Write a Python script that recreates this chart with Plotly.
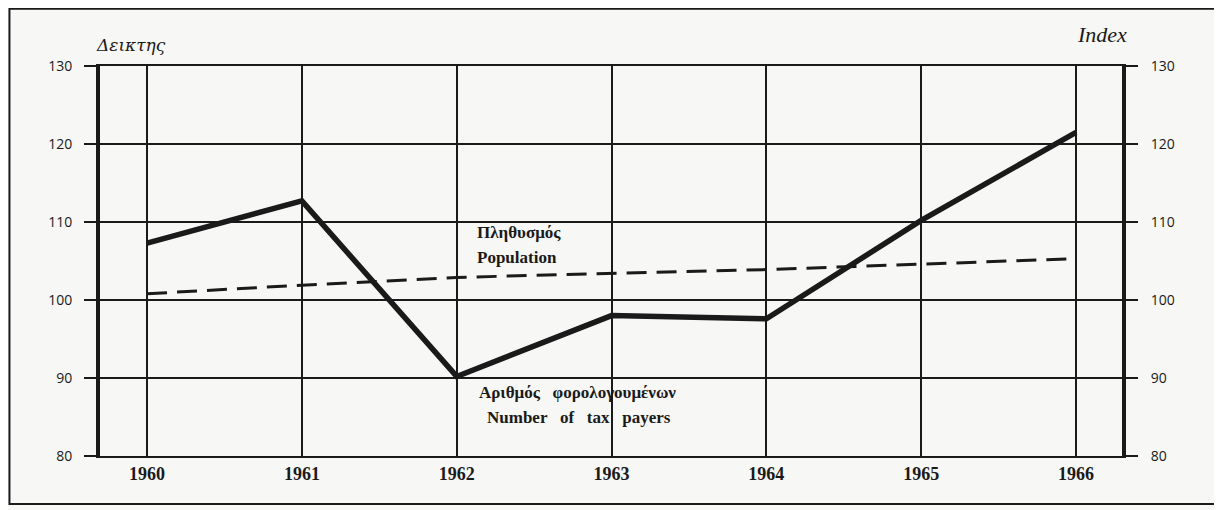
import plotly.graph_objects as go

years = [1960, 1961, 1962, 1963, 1964, 1965, 1966]
tax_payers = [107.3, 112.7, 90.2, 98.0, 97.6, 110.2, 121.5]
population = [100.8, 101.9, 102.9, 103.4, 103.9, 104.6, 105.3]
y_ticks = [80, 90, 100, 110, 120, 130]

ink = "#1a1a1a"
bg = "#f7f7f5"

fig = go.Figure()
fig.add_trace(go.Scatter(x=years, y=population, mode="lines",
                         line=dict(color=ink, width=3, dash="20px,10px"),
                         showlegend=False, hoverinfo="skip"))
fig.add_trace(go.Scatter(x=years, y=tax_payers, mode="lines",
                         line=dict(color=ink, width=5.5),
                         showlegend=False))
# invisible trace to activate right axis
fig.add_trace(go.Scatter(x=years, y=population, mode="lines", yaxis="y2",
                         line=dict(color="rgba(0,0,0,0)", width=0),
                         showlegend=False, hoverinfo="skip"))

serif = "Liberation Serif"
sans = "Open Sans"

# page body has an 8px default margin: figure sized to fit the window
fig.update_layout(
    width=1214, height=502,
    margin=dict(l=92, r=100, t=58, b=54),
    paper_bgcolor=bg, plot_bgcolor=bg,
    xaxis=dict(range=[1959.696, 1966.297], tickmode="array", tickvals=years,
               ticktext=[str(y) for y in years],
               showgrid=True, gridcolor=ink, gridwidth=1.5,
               showline=True, linecolor=ink, linewidth=2, mirror=True,
               ticks="", ticklabelstandoff=0,
               tickfont=dict(family=serif, size=18, color=ink, weight="bold"),
               zeroline=False),
    yaxis=dict(range=[80, 130], tickmode="array", tickvals=y_ticks,
               showgrid=True, gridcolor=ink, gridwidth=1.5,
               showline=True, linecolor=ink, linewidth=4,
               ticks="outside", ticklen=12, tickwidth=1.5, tickcolor=ink,
               ticklabelstandoff=9,
               tickfont=dict(family=sans, size=14, color=ink),
               zeroline=False),
    yaxis2=dict(range=[80, 130], tickmode="array", tickvals=y_ticks,
                overlaying="y", side="right", showgrid=False,
                showline=True, linecolor=ink, linewidth=4,
                ticks="outside", ticklen=12, tickwidth=1.5, tickcolor=ink,
                ticklabelstandoff=10,
                tickfont=dict(family=sans, size=14, color=ink),
                zeroline=False),
)

# outer frame
fig.add_shape(type="rect", xref="paper", yref="paper",
              x0=-0.0886, x1=1.092, y0=-0.123, y1=1.147,
              line=dict(color=ink, width=2), fillcolor="rgba(0,0,0,0)")

ann = [
    dict(text="Δεικτης", x=0.030, y=1.054, xref="paper", yref="paper",
         font=dict(family="DejaVu Serif", size=17, style="italic", color=ink)),
    dict(text="Index", x=0.980, y=1.08, xref="paper", yref="paper",
         font=dict(family=serif, size=22, style="italic", color=ink)),
    dict(text="Πληθυσμός", x=1962.40, y=108.6, xref="x", yref="y",
         font=dict(family=serif, size=17, weight="bold", color=ink)),
    dict(text="Population", x=1962.39, y=105.4, xref="x", yref="y",
         font=dict(family=serif, size=17, weight="bold", color=ink)),
    dict(text="Αριθμός   φορολογουμένων", x=1962.78, y=88.1, xref="x", yref="y",
         font=dict(family=serif, size=17, weight="bold", color=ink)),
    dict(text="Number   of   tax   payers", x=1962.79, y=85.0, xref="x", yref="y",
         font=dict(family=serif, size=17, weight="bold", color=ink)),
]
for a in ann:
    fig.add_annotation(showarrow=False, xanchor="center", yanchor="middle", **a)

fig.write_html("out.html")
